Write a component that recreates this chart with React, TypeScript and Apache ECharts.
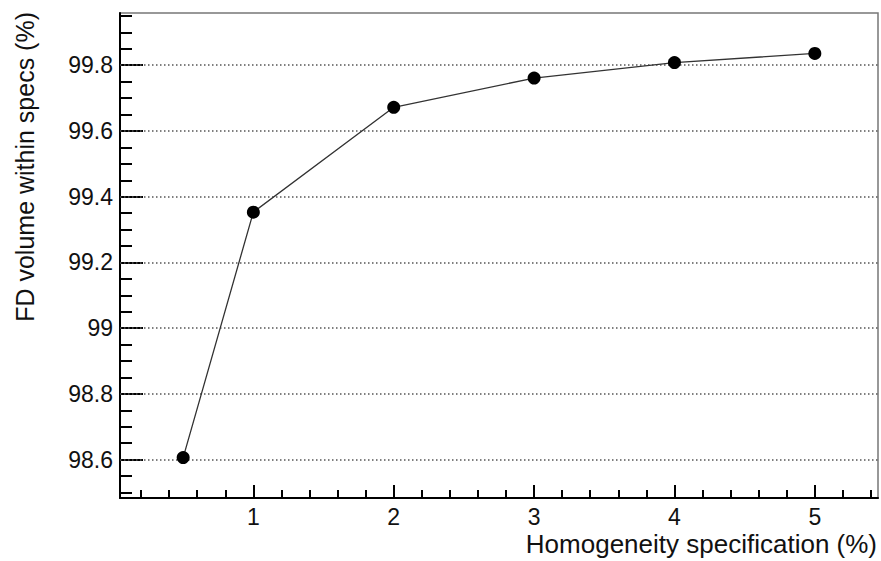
import React, { useEffect, useRef } from 'react';
import * as echarts from 'echarts';

const X_VALUES = [0.5, 1, 2, 3, 4, 5];
const Y_VALUES = [98.606, 99.353, 99.672, 99.761, 99.808, 99.836];
const X_MAJOR = [1, 2, 3, 4, 5];
const Y_MAJOR = [98.6, 98.8, 99, 99.2, 99.4, 99.6, 99.8];
const X_TITLE = 'Homogeneity specification (%)';
const Y_TITLE = 'FD volume within specs (%)';

const X_MIN = 0.05;
const X_MAX = 5.45;
const Y_MIN = 98.483;
const Y_MAX = 99.959;

const xMinor: number[] = [];
for (let k = 1; k <= 27; k++) {
  const v = Math.round(k * 0.2 * 100) / 100;
  if (Math.abs(v - Math.round(v)) > 1e-6) xMinor.push(v);
}
const yMinor: number[] = [];
for (let k = 0; k <= 29; k++) {
  const v = Math.round((98.5 + k * 0.05) * 100) / 100;
  if (!Y_MAJOR.some((m) => Math.abs(m - v) < 1e-6)) yMinor.push(v);
}

const FONT = '"Liberation Sans", Arial, Helvetica, sans-serif';

export default function App() {
  const ref = useRef<HTMLDivElement>(null);
  useEffect(() => {
    const chart = echarts.init(ref.current!, null, { renderer: 'svg' });
    const option: any = {
      animation: false,
      backgroundColor: '#fff',
      grid: {
        left: 120,
        right: 3,
        top: 13,
        bottom: 63,
        show: true,
        borderColor: '#777',
        borderWidth: 1.5,
        containLabel: false,
        outerBoundsMode: 'none',
      },
      xAxis: [
        {
          type: 'value',
          min: X_MIN,
          max: X_MAX,
          position: 'bottom',
          axisLine: { show: true, onZero: false, lineStyle: { color: '#000', width: 2 } },
          axisTick: { show: true, inside: true, length: 13, customValues: X_MAJOR, lineStyle: { color: '#000', width: 2 } },
          axisLabel: {
            show: true,
            customValues: X_MAJOR,
            margin: 7,
            color: '#111',
            fontSize: 23,
            fontFamily: FONT,
            formatter: (v: number) => String(v),
          },
          splitLine: { show: false },
        },
        {
          type: 'value',
          min: X_MIN,
          max: X_MAX,
          position: 'bottom',
          axisLine: { show: false },
          axisTick: { show: true, inside: true, length: 8, customValues: xMinor, lineStyle: { color: '#000', width: 2 } },
          axisLabel: { show: false },
          splitLine: { show: false },
        },
      ],
      yAxis: [
        {
          type: 'value',
          min: Y_MIN,
          max: Y_MAX,
          position: 'left',
          axisLine: { show: true, onZero: false, lineStyle: { color: '#000', width: 2 } },
          axisTick: { show: true, inside: true, length: 23, customValues: Y_MAJOR, lineStyle: { color: '#000', width: 2 } },
          axisLabel: {
            show: true,
            customValues: Y_MAJOR,
            margin: 7,
            color: '#111',
            fontSize: 23,
            fontFamily: FONT,
            formatter: (v: number) => String(Math.round(v * 10) / 10),
          },
          splitLine: { show: false },
        },
        {
          type: 'value',
          min: Y_MIN,
          max: Y_MAX,
          position: 'left',
          axisLine: { show: false },
          axisTick: { show: true, inside: true, length: 12, customValues: yMinor, lineStyle: { color: '#000', width: 2 } },
          axisLabel: { show: false },
          splitLine: { show: false },
        },
      ],
      series: [
        {
          type: 'line',
          xAxisIndex: 0,
          yAxisIndex: 0,
          data: X_VALUES.map((x, i) => [x, Y_VALUES[i]]),
          symbol: 'circle',
          symbolSize: 13,
          itemStyle: { color: '#000' },
          lineStyle: { color: '#333', width: 1.3 },
          z: 5,
          markLine: {
            silent: true,
            symbol: ['none', 'none'],
            label: { show: false },
            lineStyle: { color: '#555', width: 1.5, type: [1.5, 2.5] },
            data: Y_MAJOR.map((v) => ({ yAxis: v })),
            z: 1,
          },
        },
      ],
      graphic: [
        {
          type: 'text',
          right: 4,
          top: 531,
          style: { text: X_TITLE, fill: '#111', fontSize: 26, fontFamily: FONT },
        },
        {
          type: 'text',
          x: 25,
          y: 12,
          rotation: Math.PI / 2,
          style: {
            text: Y_TITLE,
            fill: '#111',
            fontSize: 25,
            fontFamily: FONT,
            align: 'right',
            verticalAlign: 'middle',
          },
        },
      ],
    };
    chart.setOption(option);
    return () => chart.dispose();
  }, []);
  return (
    <div
      ref={ref}
      style={{ position: 'fixed', left: 0, top: 0, width: 881, height: 561, background: '#fff' }}
    />
  );
}
